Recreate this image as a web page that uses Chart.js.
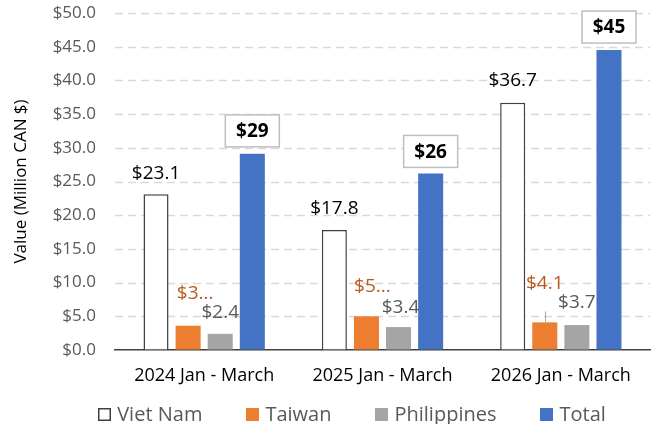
<!DOCTYPE html>
<html><head><meta charset="utf-8">
<script src="https://cdn.jsdelivr.net/npm/chart.js@4/dist/chart.umd.min.js"></script>
<style>html,body{margin:0;padding:0;background:#fff}#wrap{width:653px;height:424px}</style>
</head><body><div id="wrap"><canvas id="c" width="653" height="424"></canvas></div>
<script>
const categories = ['2024 Jan - March', '2025 Jan - March', '2026 Jan - March'];
const seriesNames = ['Viet Nam', 'Taiwan', 'Philippines', 'Total'];
const vietNam = [23.1, 17.8, 36.7];
const taiwan = [3.6, 5.0, 4.1];
const philippines = [2.4, 3.4, 3.7];
const total = [29.1, 26.2, 44.5];
const taiwanLabels = ['$3...', '$5...', '$4.1'];
const yMin = 0, yMax = 50, yStep = 5;

const FONT = '"Open Sans", "DejaVu Sans", sans-serif';

const dashedGrid = {
  id: 'dashedGrid',
  beforeDatasetsDraw(chart) {
    const ctx = chart.ctx, y = chart.scales.y, area = chart.chartArea;
    ctx.save();
    ctx.strokeStyle = '#D9D9D9';
    ctx.lineWidth = 1.5;
    ctx.setLineDash([8, 5]);
    y.ticks.forEach(t => {
      if (t.value === yMin) return;
      const py = Math.round(y.getPixelForValue(t.value)) + 0.5;
      ctx.beginPath();
      ctx.moveTo(area.left, py);
      ctx.lineTo(area.right, py);
      ctx.stroke();
    });
    ctx.restore();
  }
};

const labelPlugin = {
  id: 'valueLabels',
  afterDatasetsDraw(chart) {
    const ctx = chart.ctx;
    const specs = [
      {font: '19px ' + FONT, color: '#000000', dy: [22, 22, 23], dx: [0, 0, 0], text: i => '$' + vietNam[i].toFixed(1)},
      {font: '19px ' + FONT, color: '#B9581C', dy: [33, 31, 40], dx: [7, 6, 0], text: i => taiwanLabels[i], leader: [false, false, true]},
      {font: '19px ' + FONT, color: '#595959', dy: [22, 20, 23], dx: [0, 2, 0], text: i => '$' + philippines[i].toFixed(1)},
      {font: 'bold 19px ' + FONT, color: '#000000', dy: [23, 22, 23], dx: [0, 0, 0], text: i => '$' + Math.round(total[i]), box: true}
    ];
    ctx.save();
    ctx.textAlign = 'center';
    ctx.textBaseline = 'middle';
    specs.forEach((s, d) => {
      const meta = chart.getDatasetMeta(d);
      meta.data.forEach((el, i) => {
        const cx = el.x + s.dx[i];
        const cy = el.y - s.dy[i];
        if (s.box) {
          ctx.fillStyle = '#ffffff';
          ctx.fillRect(cx - 27, cy - 16, 54, 32);
          ctx.strokeStyle = '#BFBFBF';
          ctx.lineWidth = 1.5;
          ctx.strokeRect(cx - 27, cy - 16, 54, 32);
        }
        if (s.leader && s.leader[i]) {
          ctx.strokeStyle = '#A6A6A6';
          ctx.lineWidth = 1;
          ctx.beginPath();
          ctx.moveTo(Math.round(el.x) + 0.5, el.y - 11);
          ctx.lineTo(Math.round(el.x) + 0.5, el.y);
          ctx.stroke();
        }
        ctx.font = s.font;
        ctx.fillStyle = s.color;
        ctx.fillText(s.text(i), cx, cy + 1);
      });
    });
    ctx.restore();
  }
};

const customLegend = {
  id: 'customLegend',
  afterDraw(chart) {
    const ctx = chart.ctx;
    const centerX = 352, cy = 414.5, box = 13, gapText = 6, gapItem = 44;
    ctx.save();
    ctx.font = '20px ' + FONT;
    ctx.textBaseline = 'middle';
    ctx.textAlign = 'left';
    const items = chart.data.datasets.map(ds => ({
      label: ds.label, fill: ds.backgroundColor, stroke: ds.borderWidth ? ds.borderColor : null,
      w: box + gapText + ctx.measureText(ds.label).width
    }));
    const totalW = items.reduce((a, it) => a + it.w, 0) + gapItem * (items.length - 1);
    let x = centerX - totalW / 2;
    items.forEach(it => {
      const by = Math.round(cy - box / 2);
      ctx.fillStyle = it.fill;
      ctx.fillRect(Math.round(x), by, box, box);
      if (it.stroke) {
        ctx.strokeStyle = it.stroke;
        ctx.lineWidth = 1.5;
        ctx.strokeRect(Math.round(x) + 0.75, by + 0.75, box - 1.5, box - 1.5);
      }
      ctx.fillStyle = '#595959';
      ctx.fillText(it.label, x + box + gapText, cy + 1);
      x += it.w + gapItem;
    });
    ctx.restore();
  }
};

new Chart(document.getElementById('c'), {
  type: 'bar',
  data: {
    labels: categories,
    datasets: [
      {label: seriesNames[0], data: vietNam, backgroundColor: '#FFFFFF', borderColor: '#404040', borderWidth: 1.5},
      {label: seriesNames[1], data: taiwan, backgroundColor: '#ED7D31', borderWidth: 0},
      {label: seriesNames[2], data: philippines, backgroundColor: '#A5A5A5', borderWidth: 0},
      {label: seriesNames[3], data: total, backgroundColor: '#4472C4', borderWidth: 0}
    ]
  },
  options: {
    responsive: false,
    animation: false,
    devicePixelRatio: 1,
    categoryPercentage: 0.72,
    barPercentage: 0.78,
    layout: {padding: {top: 13, right: 3, bottom: 34, left: 0}},
    plugins: {
      legend: {display: false},
      tooltip: {enabled: false}
    },
    scales: {
      x: {
        grid: {display: false, drawTicks: false},
        border: {display: true, color: '#404040', width: 1.5},
        ticks: {font: {family: FONT, size: 18}, color: '#000000', padding: 15},
        afterFit(scale) { scale.height = 40; scale.paddingLeft = 0; scale.paddingRight = 0; }
      },
      y: {
        min: yMin, max: yMax,
        grid: {display: true, drawOnChartArea: false, drawTicks: false},
        border: {display: false},
        ticks: {
          stepSize: yStep,
          font: {family: FONT, size: 17},
          color: '#595959',
          padding: 19,
          callback: v => '$' + Number(v).toFixed(1)
        },
        title: {display: true, text: 'Value (Million CAN $)', font: {family: FONT, size: 17}, color: '#000000', padding: {top: 11, bottom: 0}},
        afterFit(scale) { scale.width = 115; scale.paddingTop = 0; scale.paddingBottom = 0; }
      }
    }
  },
  plugins: [dashedGrid, labelPlugin, customLegend]
});
</script>
</body></html>
